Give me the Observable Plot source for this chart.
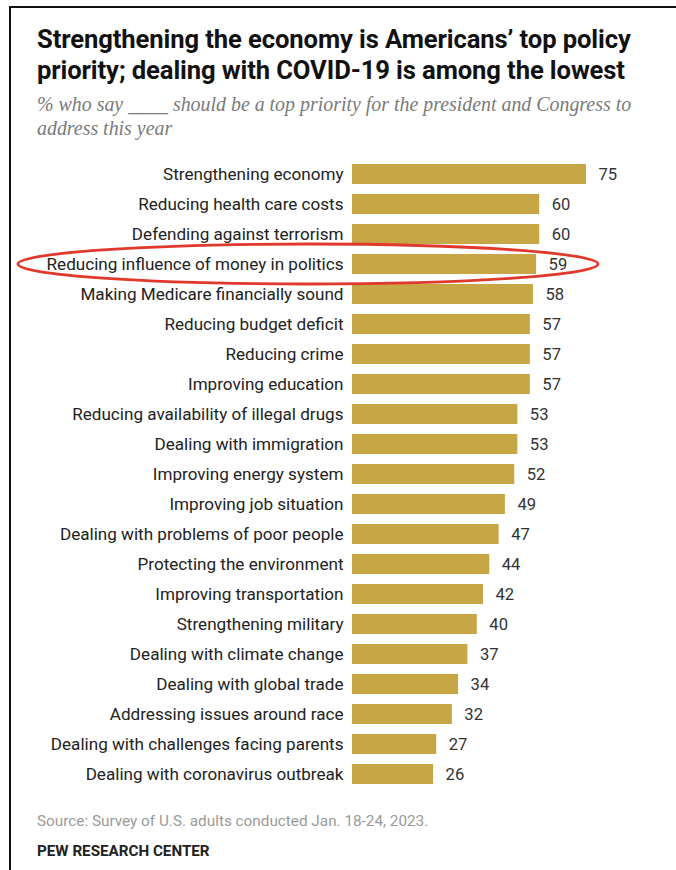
<!DOCTYPE html>
<html>
<head>
<meta charset="utf-8">
<script src="https://cdn.jsdelivr.net/npm/d3@7"></script>
<script src="https://cdn.jsdelivr.net/npm/@observablehq/plot@0.6"></script>
<style>
  html, body { margin: 0; padding: 0; background: #fff; }
  body { width: 676px; height: 870px; position: relative; overflow: hidden; font-family: Roboto, "Liberation Sans", sans-serif; }
  .frame { position: absolute; left: 9px; top: 6px; right: 0; bottom: 0; border-left: 2px solid #111; border-top: 2px solid #111; }
  .title { position: absolute; left: 37px; top: 24px; font-size: 25.6px; line-height: 31px; font-weight: 700; color: #111; letter-spacing: -0.1px; white-space: nowrap; }
  .subtitle { position: absolute; left: 37px; top: 92px; font-family: "Liberation Serif", "DejaVu Serif", serif; font-style: italic; font-size: 19.9px; line-height: 24px; color: #7a7a7a; white-space: nowrap; }
  .chart { position: absolute; left: 0; top: 150px; }
  .source { position: absolute; left: 37px; top: 812px; font-size: 15.3px; line-height: 18px; color: #9a9a9a; white-space: nowrap; }
  .pew { position: absolute; left: 37px; top: 842px; font-size: 15.2px; line-height: 18px; font-weight: 700; color: #222; white-space: nowrap; }
</style>
</head>
<body>
<div class="frame"></div>
<div class="title">Strengthening the economy is Americans’ top policy<br>priority; dealing with COVID-19 is among the lowest</div>
<div class="subtitle">% who say ____ should be a top priority for the president and Congress to<br>address this year</div>
<div class="chart" id="chart"></div>
<div class="source">Source: Survey of U.S. adults conducted Jan. 18-24, 2023.</div>
<div class="pew">PEW RESEARCH CENTER</div>
<script>
const priorities = [
  "Strengthening economy",
  "Reducing health care costs",
  "Defending against terrorism",
  "Reducing influence of money in politics",
  "Making Medicare financially sound",
  "Reducing budget deficit",
  "Reducing crime",
  "Improving education",
  "Reducing availability of illegal drugs",
  "Dealing with immigration",
  "Improving energy system",
  "Improving job situation",
  "Dealing with problems of poor people",
  "Protecting the environment",
  "Improving transportation",
  "Strengthening military",
  "Dealing with climate change",
  "Dealing with global trade",
  "Addressing issues around race",
  "Dealing with challenges facing parents",
  "Dealing with coronavirus outbreak"
];
const shares = [75, 60, 60, 59, 58, 57, 57, 57, 53, 53, 52, 49, 47, 44, 42, 40, 37, 34, 32, 27, 26];
const highlighted = "Reducing influence of money in politics";

const data = priorities.map((p, i) => ({priority: p, value: shares[i]}));

const chart = Plot.plot({
  width: 676,
  height: 642,
  marginLeft: 352,
  marginRight: 90,
  marginTop: 8,
  marginBottom: 2,
  style: {fontFamily: "Roboto, 'Liberation Sans', sans-serif", fontSize: "17.1px", color: "#222", background: "transparent", overflow: "visible"},
  x: {domain: [0, 75], axis: null},
  y: {domain: priorities, paddingInner: 1/3, paddingOuter: 1/6, label: null},
  marks: [
    Plot.barX(data, {x: "value", y: "priority", fill: "#c7a646"}),
    Plot.text(data, {x: "value", y: "priority", text: d => String(d.value), dx: 12, textAnchor: "start", fill: "#333", fontSize: 16.6}),
    Plot.axisY({tickSize: 0, tickPadding: 9, label: null, fontSize: 17.1, fill: "#222"})
  ]
});
document.getElementById("chart").appendChild(chart);

// Red highlight ellipse around the selected row
const ys = chart.scale("y"), xs = chart.scale("x");
const cy = ys.apply(highlighted) + ys.bandwidth / 2;
const right = xs.apply(75) + 12;
const left = 18;
const svg = d3.select(chart);
svg.append("ellipse")
  .attr("cx", (left + right) / 2)
  .attr("cy", cy)
  .attr("rx", (right - left) / 2)
  .attr("ry", 20)
  .attr("fill", "none")
  .attr("stroke", "#e0392b")
  .attr("stroke-width", 2.8);
</script>
</body>
</html>
